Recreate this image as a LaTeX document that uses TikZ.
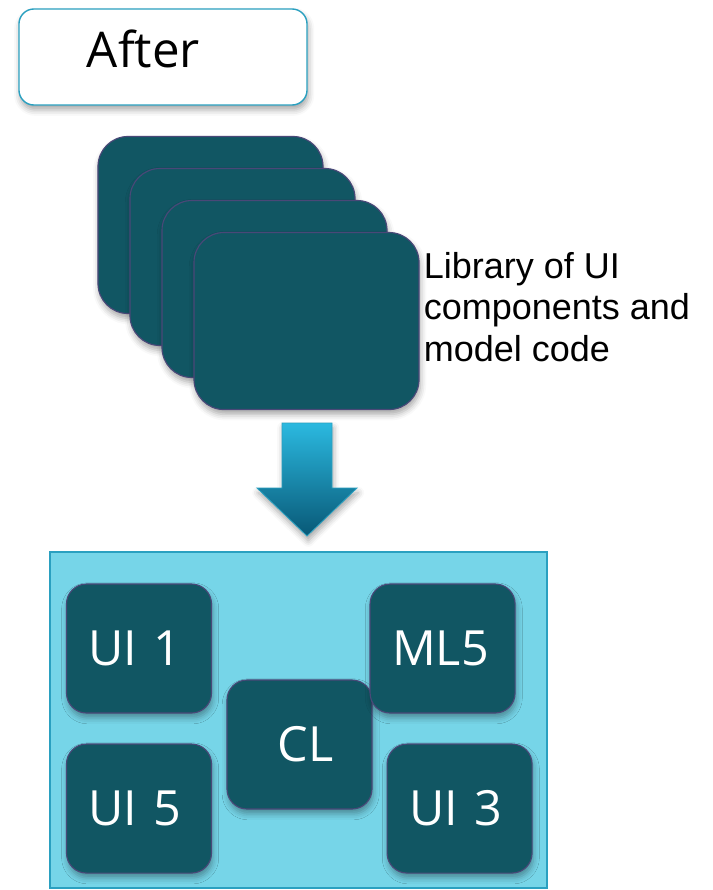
\documentclass[tikz,border=0pt]{standalone}
\usepackage{fontspec}
\setmainfont{Open Sans}
\newfontfamily\arialfont{Liberation Sans}
\usetikzlibrary{positioning,shadows.blur}
\definecolor{cardfill}{RGB}{17,86,99}
\definecolor{cardline}{RGB}{74,72,120}
\definecolor{boxfill}{RGB}{118,213,232}
\definecolor{boxline}{RGB}{42,160,192}
\definecolor{arrowtop}{RGB}{43,185,224}
\definecolor{arrowbot}{RGB}{8,88,118}
\begin{document}
\begin{tikzpicture}
            [x=0.025cm,y=-0.025cm,
             soft/.style ={blur shadow={shadow xshift=0.03cm,shadow yshift=-0.12cm,shadow blur radius=0.15cm,shadow opacity=35}},
             card/.style ={draw=cardline,line width=0.8pt,fill=cardfill,rounded corners=0.75cm,
                           minimum width=5.625cm,minimum height=4.425cm,soft},
             part/.style ={draw=cardline,line width=0.8pt,fill=cardfill,rounded corners=0.5cm,
                           minimum width=3.625cm,minimum height=3.225cm,inner xsep=0.55cm,
                           text width=2.525cm,align=left,text=white,
                           font=\fontsize{34.5}{42}\selectfont,soft}]
            \useasboundingbox (0,0) rectangle (712,890);
            % title
            \node[draw=boxline,line width=1pt,fill=white,rounded corners=0.375cm,
                  minimum width=7.2cm,minimum height=2.4cm,inner xsep=1.7cm,text width=3.8cm,
                  text height=0.875cm,text depth=0.375cm,align=left,
                  font=\fontsize{35}{42}\selectfont,soft] (after) at (163,57) {After};
            % stack of cards
            \node[card] (l1) at (210.5,225) {};
            \node[card] (l2) [on grid, below right=0.8cm and 0.8cm of l1] {};
            \node[card] (l3) [on grid, below right=0.8cm and 0.8cm of l2] {};
            \node[card] (l4) [on grid, below right=0.8cm and 0.8cm of l3] {};
            \node[inner sep=0,align=left,font=\arialfont\fontsize{25.6}{29.4}\selectfont]
                  (lib) [below right=0.5cm and 0.1cm of l4.north east]
                  {Library of UI\\components and\\model code};
            % block arrow
            \path[draw=boxline,line width=0.6pt,top color=arrowtop,bottom color=arrowbot,soft]
                  (282,423) -- (332,423) -- (332,488) -- (357,488) -- (307,536)
                  -- (257,488) -- (282,488) -- cycle;
            % application
            \node[draw=boxline,line width=1.4pt,fill=boxfill,minimum width=12.425cm,
                  minimum height=8.4cm] (app) at (298.5,720) {};
            \node[part] (ui1) at (139,648.5) {UI 1};
            \node[part] (ui5) [on grid, below=4cm of ui1] {UI 5};
            \node[part,align=center,inner xsep=0.4cm] (cl) at (299.5,744.5) {\hspace*{0.3cm}CL};
            \node[part] (ml5) [on grid, right=7.5875cm of ui1] {ML5};
            \node[part] (ui3) [on grid, right=8.0125cm of ui5] {UI 3};
\end{tikzpicture}
\end{document}
